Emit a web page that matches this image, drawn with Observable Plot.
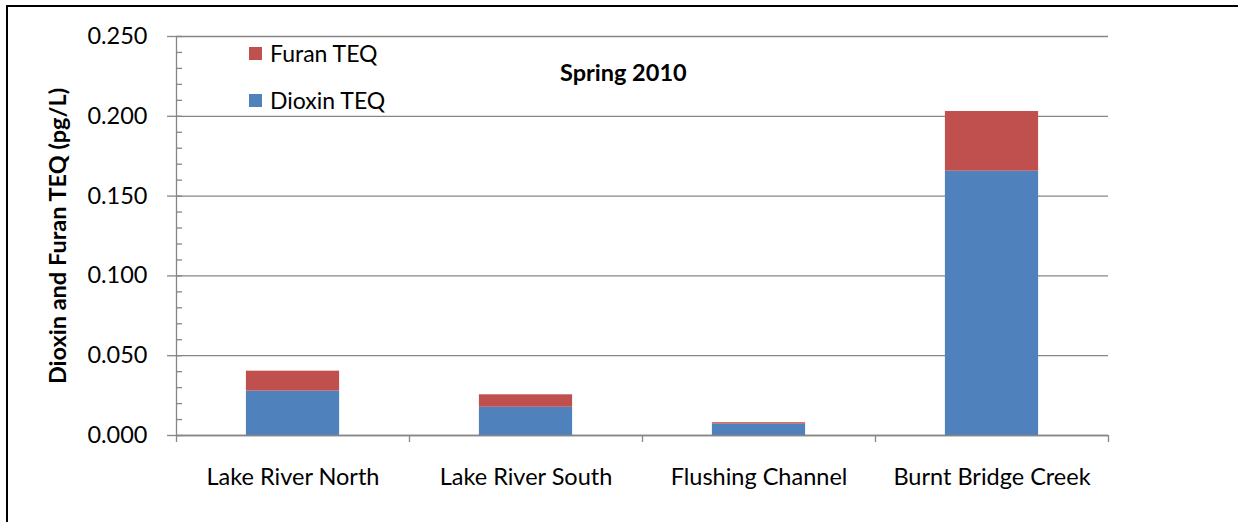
<!DOCTYPE html>
<html>
<head>
<meta charset="utf-8">
<script src="https://cdn.jsdelivr.net/npm/d3@7"></script>
<script src="https://cdn.jsdelivr.net/npm/@observablehq/plot@0.6"></script>
<style>
  html, body { margin: 0; padding: 0; background: #fff; }
  #wrap { position: relative; width: 1238px; height: 522px; overflow: hidden; font-family: Lato, "Open Sans", sans-serif; }
  #frame { position: absolute; left: 6px; top: 5px; width: 1300px; height: 600px; border-left: 2px solid #000; border-top: 2px solid #000; box-sizing: border-box; }
  #chart { position: absolute; left: 0; top: 0; }
  .title { position: absolute; left: 560px; top: 58px; font-weight: 700; font-size: 23.5px; color: #000; white-space: nowrap; }
  .legend-item { position: absolute; left: 249px; font-size: 23px; color: #000; white-space: nowrap; display: flex; align-items: center; }
  .legend-item span.sw { display: inline-block; width: 13px; height: 13px; margin-right: 8px; }
  .ytitle { position: absolute; left: 57px; top: 236px; transform: translate(-50%, -50%) rotate(-90deg); font-weight: 700; font-size: 23.5px; white-space: nowrap; color: #000; }
</style>
</head>
<body>
<div id="wrap">
  <div id="chart"></div>
  <div id="frame"></div>
</div>
<script>
const categories = ["Lake River North", "Lake River South", "Flushing Channel", "Burnt Bridge Creek"];
const dioxinTEQ = [0.0278, 0.0177, 0.0071, 0.1656];
const furanTEQ  = [0.0125, 0.0078, 0.0009, 0.0374];
const yMajorTicks = [0, 0.05, 0.10, 0.15, 0.20, 0.25];
const yMinorTicks = d3.range(0, 0.2501, 0.01);
const seriesNames = ["Furan TEQ", "Dioxin TEQ"];
const colors = { "Dioxin TEQ": "#4F81BD", "Furan TEQ": "#C0504D" };
const titleText = "Spring 2010";
const yTitle = "Dioxin and Furan TEQ (pg/L)";

const rows = categories.map((c, i) => ({ i, category: c, dioxin: dioxinTEQ[i], furan: furanTEQ[i] }));
const gray = "#868686";

const plot = Plot.plot({
  width: 1238,
  height: 522,
  marginLeft: 176,
  marginRight: 130,
  marginTop: 36,
  marginBottom: 87,
  style: { fontFamily: "Lato, 'Open Sans', sans-serif", fontSize: "23.5px", color: "#000", background: "transparent" },
  x: { type: "linear", domain: [0, categories.length], axis: null },
  y: { domain: [0, 0.25], axis: null },
  marks: [
    Plot.gridY(yMajorTicks, { stroke: gray, strokeOpacity: 1, strokeWidth: 1.3 }),
    Plot.axisY(yMinorTicks, { anchor: "left", tickSize: -6, tickFormat: () => "", stroke: gray, strokeWidth: 1.3, label: null }),
    Plot.axisY(yMajorTicks, { anchor: "left", tickSize: 9, tickPadding: 20, tickFormat: d3.format(".3f"), stroke: gray, strokeWidth: 1.3, fill: "#000", fontSize: 23.5, label: null }),
    Plot.ruleX([0], { stroke: gray, strokeWidth: 1.3 }),
    Plot.rectY(rows, { x1: d => d.i + 0.3, x2: d => d.i + 0.7, y1: 0, y2: "dioxin", fill: colors["Dioxin TEQ"] }),
    Plot.rectY(rows, { x1: d => d.i + 0.3, x2: d => d.i + 0.7, y1: "dioxin", y2: d => d.dioxin + d.furan, fill: colors["Furan TEQ"] }),
    Plot.ruleY([0], { stroke: gray, strokeWidth: 1.3 }),
    Plot.axisX(d3.range(0, categories.length + 1), { anchor: "bottom", tickSize: 7, tickFormat: () => "", stroke: gray, strokeWidth: 1.3, label: null }),
    Plot.axisX(categories.map((c, i) => i + 0.5), { anchor: "bottom", tickSize: 0, tickPadding: 33, tickFormat: v => categories[Math.floor(v)], fill: "#000", fontSize: 23.5, label: null })
  ]
});
document.getElementById("chart").appendChild(plot);

const wrap = document.getElementById("wrap");
const t = document.createElement("div");
t.className = "title"; t.textContent = titleText; wrap.appendChild(t);
const yt = document.createElement("div");
yt.className = "ytitle"; yt.textContent = yTitle; wrap.appendChild(yt);
const legendTops = { "Furan TEQ": 39, "Dioxin TEQ": 86 };
seriesNames.forEach(name => {
  const it = document.createElement("div");
  it.className = "legend-item";
  it.style.top = legendTops[name] + "px";
  it.innerHTML = `<span class="sw" style="background:${colors[name]}"></span><span>${name}</span>`;
  wrap.appendChild(it);
});
</script>
</body>
</html>
